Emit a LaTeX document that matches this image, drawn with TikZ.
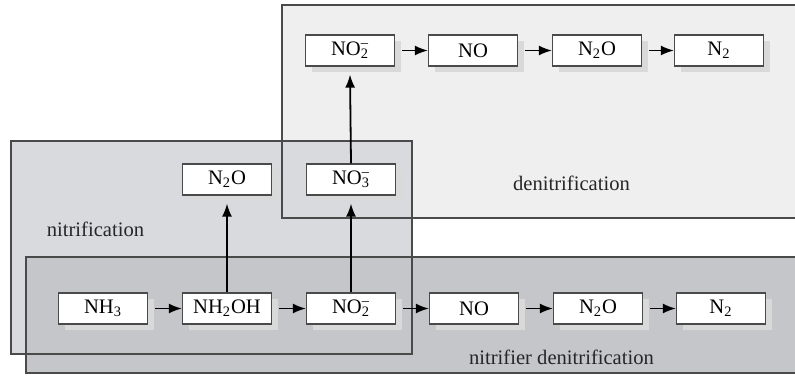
\documentclass[tikz,border=0pt]{standalone}
\usepackage{fontspec}
\setmainfont{Liberation Serif}
\usetikzlibrary{arrows.meta,shadows}
\newcommand{\ion}[2]{\rlap{\raisebox{0.15ex}{\textsuperscript{#2}}}\textsubscript{#1}}
\definecolor{denitgray}{HTML}{EFEFEF}
\definecolor{nitrgray}{HTML}{D9DADD}
\definecolor{nitdengray}{HTML}{C5C6CA}
\definecolor{edgegray}{HTML}{4A4A4A}
\tikzset{
	species/.style={draw=edgegray, line width=0.6pt, fill=white, minimum width=44.5pt, minimum height=15.5pt, inner sep=0pt,
		font=\fontsize{10.3}{12}\selectfont,
		drop shadow={shadow xshift=3pt, shadow yshift=-3pt, fill=black!15, opacity=1}},
	flow/.style={line width=0.9pt, -{Latex[length=6.5pt, width=5pt]}},
	region/.style={draw=edgegray, line width=0.7pt},
	tag/.style={font=\fontsize{10.3}{12}\selectfont, text=black!85}
}
\begin{document}
\begin{tikzpicture}[x=0.5pt, y=-0.5pt]
			%%%%% REGIONS %%%%%
			\clip (0, 0) rectangle (795, 376);
			\fill[white] (0, 0) rectangle (795, 376);
			
			\fill[denitgray] (282, 5) rectangle (805, 218);
			\fill[nitrgray] (11, 141) rectangle (412, 354);
			\fill[nitdengray] (26, 257) rectangle (805, 373);
			
			\draw[region] (282, 5) rectangle (805, 218);
			\draw[region] (11, 141) rectangle (412, 354);
			\draw[region] (26, 257) rectangle (805, 373);
			
			\node[tag] (nitrlabel) at (95.5, 229) {nitrification};
			\node[tag] (denitlabel) at (571.5, 183) {denitrification};
			\node[tag] (nitdenlabel) at (561.5, 357) {nitrifier denitrification};
			
			%%%%% BOTTOM ROW %%%%%
			\node[species] (nh3) at (103, 308.5) {NH\textsubscript{3}};
			\node[species] (nh2oh) at (227, 308.5) {NH\textsubscript{2}OH};
			\node[species] (no2low) at (351, 308.5) {NO\ion{2}{--}};
			\node[species] (nolow) at (474, 308.5) {NO};
			\node[species] (n2olow) at (598, 308.5) {N\textsubscript{2}O};
			\node[species] (n2low) at (721, 308.5) {N\textsubscript{2}};
			
			%%%%% MIDDLE ROW %%%%%
			\node[species] (n2omid) at (227, 179.5) {N\textsubscript{2}O};
			\node[species] (no3) at (351, 179.5) {NO\ion{3}{--}};
			
			%%%%% TOP ROW %%%%%
			\node[species] (no2top) at (350, 50.5) {NO\ion{2}{--}};
			\node[species] (notop) at (473, 50.5) {NO};
			\node[species] (n2otop) at (597, 50.5) {N\textsubscript{2}O};
			\node[species] (n2top) at (719, 50.5) {N\textsubscript{2}};
			
			%%%%% ARROWS %%%%%
			\draw[flow] ([xshift=3.5pt]nh3.east) -- (nh2oh.west);
			\draw[flow] ([xshift=3.5pt]nh2oh.east) -- (no2low.west);
			\draw[flow] ([xshift=3.5pt]no2low.east) -- (nolow.west);
			\draw[flow] ([xshift=3.5pt]nolow.east) -- (n2olow.west);
			\draw[flow] ([xshift=3.5pt]n2olow.east) -- (n2low.west);
			
			\draw[flow] ([xshift=3.5pt]no2top.east) -- (notop.west);
			\draw[flow] ([xshift=3.5pt]notop.east) -- (n2otop.west);
			\draw[flow] ([xshift=3.5pt]n2otop.east) -- (n2top.west);
			
			\draw[flow] (nh2oh.north) -- ([yshift=-4pt]n2omid.south);
			\draw[flow] (no2low.north) -- ([yshift=-4pt]no3.south);
			\draw[flow] (no3.north) -- ([yshift=-4pt]no2top.south);
\end{tikzpicture}
\end{document}
